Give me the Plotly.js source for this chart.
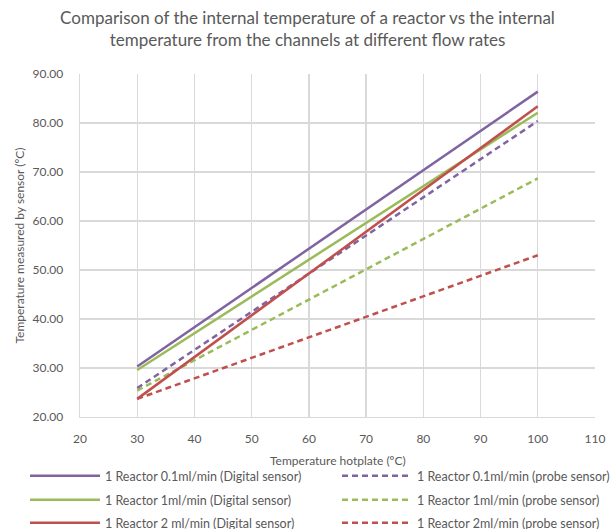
<!DOCTYPE html>
<html>
<head>
<meta charset="utf-8">
<script src="https://cdn.plot.ly/plotly-3.0.1.min.js"></script>
<style>html,body{margin:0;padding:0;background:#fff}#chart{width:615px;height:529px}</style>
</head>
<body>
<div id="chart"></div>
<script>
const hotplate = [30, 100];
const names = [
  "1 Reactor 0.1ml/min (Digital sensor)",
  "1 Reactor 0.1ml/min (probe sensor)",
  "1 Reactor 1ml/min (Digital sensor)",
  "1 Reactor 1ml/min (probe sensor)",
  "1 Reactor 2 ml/min (Digital sensor)",
  "1 Reactor 2ml/min (probe sensor)"
];
const xTitle = "Temperature hotplate (ºC)";
const yTitle = "Temperature measured by sensor (ºC)";
const r01Digital = [30.3, 86.4];
const r01Probe = [25.9, 80.4];
const r1Digital = [29.6, 82.1];
const r1Probe = [25.4, 68.7];
const r2Digital = [23.7, 83.4];
const r2Probe = [23.7, 53.0];

const series = [r01Digital, r01Probe, r1Digital, r1Probe, r2Digital, r2Probe];
const colors = ["#8064A2", "#8064A2", "#9BBB59", "#9BBB59", "#C0504D", "#C0504D"];
const dashes = ["solid", "6px,4px", "solid", "6px,4px", "solid", "6px,4px"];
const legendIds = ["legend", "legend2", "legend3", "legend4", "legend5", "legend6"];

const traces = series.map((s, i) => ({
  x: hotplate, y: s, name: names[i], type: "scatter", mode: "lines",
  legend: legendIds[i],
  line: {color: colors[i], width: 2.5, dash: dashes[i]}
}));

const font = "Lato, 'Open Sans', sans-serif";
function leg(xl, yc) {
  return {orientation: "h", xref: "container", yref: "container", x: xl / 615, y: 1 - yc / 529,
    xanchor: "left", yanchor: "middle", itemwidth: 70,
    font: {size: 12.5, color: "#595959", family: font}, bgcolor: "rgba(0,0,0,0)"};
}
const layout = {
  width: 615, height: 529,
  margin: {l: 80, r: 20, t: 74, b: 112, autoexpand: false},
  paper_bgcolor: "#fff", plot_bgcolor: "#fff",
  font: {family: font, color: "#595959", size: 12},
  title: {text: "Comparison of the internal temperature of a reactor vs the internal<br>temperature from the channels at different flow rates",
    font: {size: 17, color: "#595959", family: font}, x: 0.5, xanchor: "center",
    yref: "container", y: 1 - 24 / 529, yanchor: "top"},
  xaxis: {range: [20, 110], dtick: 10, tick0: 20, showgrid: true, gridcolor: "#D9D9D9", gridwidth: 1.4,
    zeroline: false, showline: true, linecolor: "#D9D9D9", linewidth: 1.4, ticks: "", ticklabelstandoff: 10,
    tickfont: {size: 12, color: "#595959"}},
  yaxis: {range: [20, 90], dtick: 10, tick0: 20, tickformat: ".2f", showgrid: true, gridcolor: "#D9D9D9", gridwidth: 1.4,
    zeroline: false, showline: true, linecolor: "#D9D9D9", linewidth: 1.4, ticks: "", ticklabelstandoff: 13,
    tickfont: {size: 12, color: "#595959"},
    title: {text: yTitle, font: {size: 12, color: "#595959"}, standoff: 5}},
  annotations: [{text: xTitle, xref: "paper", yref: "paper", x: 0.5, y: (417 - 460) / 343,
    xanchor: "center", yanchor: "middle", showarrow: false, font: {size: 12, color: "#595959", family: font}}],
  showlegend: true,
  legend: leg(25, 476),
  legend2: leg(337, 476),
  legend3: leg(25, 500),
  legend4: leg(337, 500),
  legend5: leg(25, 523),
  legend6: leg(337, 523)
};
Plotly.newPlot("chart", traces, layout, {displayModeBar: false, staticPlot: true});
</script>
</body>
</html>
